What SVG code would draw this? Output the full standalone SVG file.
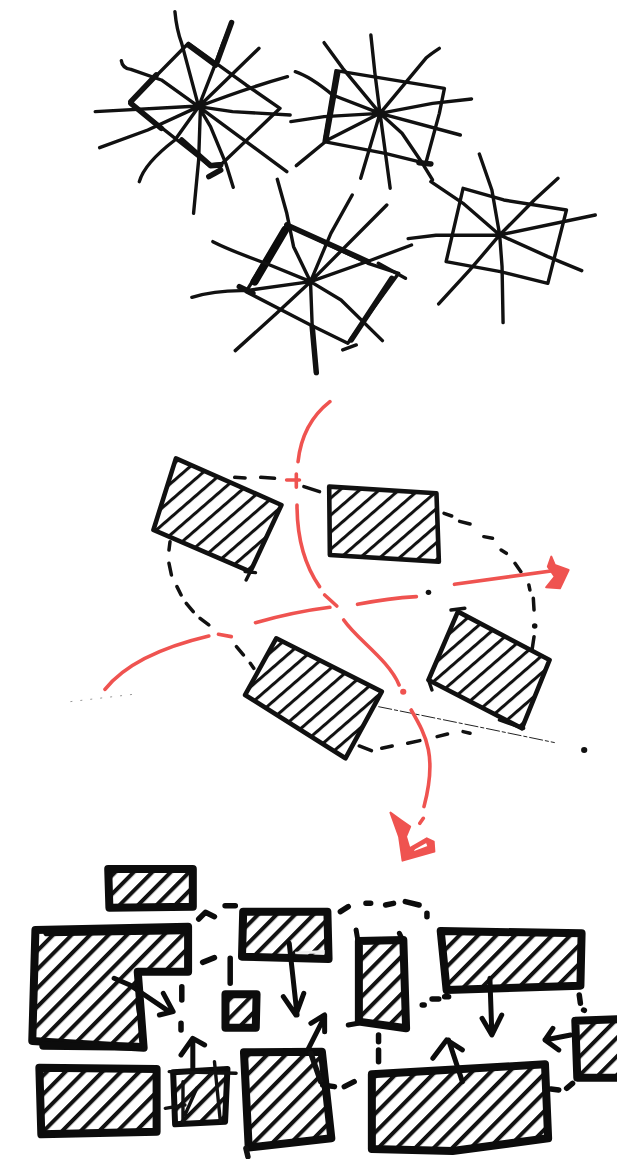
<svg xmlns="http://www.w3.org/2000/svg" width="617" height="1159" viewBox="0 0 617 1159">
<style>
.k,.t,.r,.b,.h,.d,.e{fill:none;stroke-linecap:round;stroke-linejoin:round;vector-effect:non-scaling-stroke}
.k{stroke:#111;stroke-width:3.4}
.t{stroke:#111;stroke-width:5.5}
.d{stroke:#111;stroke-width:3.5}
.e{stroke:#0c0c0c;stroke-width:5.5}
.r{stroke:#ef5350;stroke-width:3.6}
.h{stroke:#111;stroke-width:4.6}
.b{stroke:#0c0c0c;stroke-width:8}
.a{stroke:#0c0c0c;stroke-width:5;fill:none;stroke-linecap:round;stroke-linejoin:round;vector-effect:non-scaling-stroke}
.rf{fill:#ef5350;stroke:#ef5350;stroke-width:2;stroke-linejoin:round;vector-effect:non-scaling-stroke}
.dot{fill:#111}
</style>
<defs>
<pattern id="p2" patternUnits="userSpaceOnUse" width="60" height="38" patternTransform="rotate(-42)"><rect width="60" height="38" fill="#fff"/><rect y="0" width="60" height="9" fill="#111"/></pattern>
<pattern id="p3" patternUnits="userSpaceOnUse" width="60" height="36" patternTransform="rotate(-50)"><rect width="60" height="36" fill="#fff"/><rect y="0" width="60" height="11" fill="#111"/></pattern>
</defs>
<rect width="617" height="1159" fill="#fff"/>

<g id="top-sketch" transform="translate(80,0) scale(.339,.3333)">
<g id="star-1">
<path class="k" d="M150 305L300 150 320 130 490 255 590 325 420 490 380 495 150 310"/>
<path class="t" d="M150 305L225 225M150 310L240 385M300 420L385 497 415 495M380 530L415 510M320 135L400 195"/>
<path class="k" d="M280 35Q285 90 300 130L350 320M447 68Q420 130 400 190L350 320M528 145L350 320M612 230Q490 265 350 320M620 345L450 335 350 320M610 515L470 410 350 320M452 562L430 490 385 380 350 320M335 640L350 480 355 330M175 545Q190 490 280 420L350 320M58 443L200 390 350 320M45 335L350 318M122 182Q125 205 150 208L240 240 350 320"/>
<path class="t" d="M447 68L405 185"/>
</g>
<g id="star-2">
<path class="k" d="M755 212L1075 265 1060 340 1020 490 900 460 720 425Z"/>
<path class="t" d="M760 220L725 420M1000 488L1035 492"/>
<path class="k" d="M720 128L775 205 885 340M858 105L870 220 885 340M1060 145Q1030 165 1020 175L885 340M1155 297L1040 310 885 340M1122 405L885 340M1040 540L1010 490 950 400 885 340M915 565L885 340M828 535L885 340M638 497L730 420 885 340M622 365L720 350 885 340M635 215Q680 230 745 285L885 340"/>
</g>
<g id="star-3">
<path class="k" d="M1130 565L1250 600 1435 630 1380 850 1240 815 1080 785Z"/>
<path class="k" d="M1178 462L1215 570 1238 705M1410 535L1340 600 1238 705M1520 645L1238 705M1480 812L1380 770 1238 705M1248 968L1245 800 1238 705M1058 912L1150 810 1238 705M968 716L1050 706 1238 705M1035 545L1130 610 1238 705"/>
</g>
<g id="star-4">
<path class="k" d="M610 675L850 790 940 820 790 1030 680 975 490 875Z"/>
<path class="b" d="M605 690L515 845"/>
<path class="t" d="M610 675L850 785M920 835L800 1020M470 860L510 880"/>
<path class="k" d="M582 538L610 640 630 740 680 845M803 585L740 700 680 845M905 615L680 845M978 735L860 780 680 845M960 835L880 790M892 1022L770 900 680 845M685 980L680 845M458 1052L580 940 680 845M330 892Q400 870 490 872L680 845M392 725Q440 750 560 795L680 845M775 1050L815 1035"/>
<path class="t" d="M697 1118L685 980"/>
</g>
</g>

<g id="middle-sketch" transform="translate(60,390) scale(.346,.3333)">
<g id="block-a"><path class="h" style="fill:url(#p2)" d="M335 205L640 345 550 545 270 420Z"/><path class="k" d="M550 545L538 570M535 545L565 548"/></g>
<g id="block-b"><path class="h" style="fill:url(#p2)" d="M778 290L1088 310 1095 515 780 495Z"/></g>
<g id="block-c"><path class="h" style="fill:url(#p2)" d="M1150 665L1415 810 1335 1015 1065 870Z"/><path class="k" d="M1130 660L1170 655M1065 870L1075 900M1270 990L1340 1015"/></g>
<g id="block-d"><path class="h" style="fill:url(#p2)" d="M625 745L930 905 825 1105 535 915Z"/></g>
<g id="connectors">
<path class="d" d="M505 262L535 264M580 262L620 265M705 290L750 305M1110 370L1132 378M1155 394L1185 402M1225 440L1250 445M1275 480L1290 490M1315 520L1332 545M1355 585L1358 600M1368 625L1370 660M1370 740L1365 775M318 455L315 480M315 520L322 555M338 590L350 615M365 640L385 665M405 685L430 705M510 770L530 795M550 820L560 835M865 1068L900 1082M930 1075L960 1068M1005 1060L1040 1052M1090 1040L1120 1032M1165 1025L1185 1030"/>
<circle class="dot" cx="1372" cy="708" r="8"/><circle class="dot" cx="1065" cy="607" r="8"/><circle class="dot" cx="1515" cy="1080" r="9"/>
<path fill="none" stroke="#222" stroke-width="1" vector-effect="non-scaling-stroke" stroke-dasharray="14 2 4 2" d="M920 950L1040 975 1230 1015 1430 1058"/>
<path fill="none" stroke="#999" stroke-width="1" vector-effect="non-scaling-stroke" stroke-dasharray="2 8" d="M30 935L220 912"/>
</g>
<g id="red-routes">
<path class="r" d="M780 35Q700 100 688 215M655 270L692 270M683 252L683 292M685 345C685 450 710 530 750 590M765 615L800 648M860 643Q950 625 1030 620M565 698Q680 665 780 652M130 898C190 820 300 770 430 738M458 733L495 740M820 690C860 750 950 810 980 885M1015 960C1060 1040 1090 1100 1052 1250M1050 1285L1040 1300M1140 583L1440 540"/>
<circle cx="992" cy="905" r="9" fill="#ef5350"/>
<path class="rf" d="M1420 500L1430 525 1470 540 1445 595 1405 592 1430 560 1410 530Z"/>
<path class="rf" fill-rule="evenodd" d="M955 1268L985 1290 1012 1310 1000 1340 1010 1375 1060 1345 1080 1355 1082 1385 990 1412 980 1340ZM1015 1390L1065 1370 1060 1355 1025 1375Z"/>
</g>
</g>

<g id="bottom-sketch" transform="translate(0,855) scale(.3935,.3333)">
<g id="room-1"><path class="b" style="fill:url(#p3)" d="M275 42L490 42 490 155 278 158Z"/></g>
<g id="room-2"><path class="b" style="fill:url(#p3)" d="M90 225L478 215 478 350 350 350 365 578 82 558Z"/><path class="b" d="M120 232L470 226M110 572L350 575"/><path class="a" d="M350 440L365 560M290 370L330 390 430 470M415 415L440 470 405 480"/></g>
<g id="room-3"><path class="b" style="fill:url(#p3)" d="M618 170L832 170 835 312 615 305Z"/><path fill="#eee" d="M750 290L825 285 825 296 750 296Z"/><path class="a" d="M735 265L755 480M720 425L752 480 772 415"/></g>
<g id="room-4"><path class="b" style="fill:url(#p3)" d="M573 418L652 418 650 518 573 518Z"/></g>
<g id="room-5"><path class="b" style="fill:url(#p3)" d="M912 258L1025 255 1032 520 912 500Z"/><path class="a" d="M905 225L910 260M1015 235L1025 260M885 510L910 505"/></g>
<g id="room-6"><path class="b" style="fill:url(#p3)" d="M1120 228L1478 235 1475 392 1135 405Z"/><path class="a" d="M1245 370L1250 540M1225 490L1250 540 1275 480"/></g>
<g id="room-7"><path class="b" style="fill:url(#p3)" d="M1462 497L1580 492 1580 668 1467 668Z"/><path class="a" d="M1450 540L1385 555M1405 520L1385 555 1420 585"/></g>
<g id="room-8"><path class="b" style="fill:url(#p3)" d="M100 638L398 642 398 830 105 838Z"/></g>
<g id="room-9"><path class="b" style="stroke-width:6;fill:url(#p3)" d="M440 652L578 642 572 800 445 808Z"/><path class="a" d="M490 640L490 560M460 600L490 550 520 570"/><path class="k" d="M465 680L465 800M430 650L600 655M420 760L470 750M545 620L560 800M500 700L470 780"/></g>
<g id="room-10"><path class="b" style="fill:url(#p3)" d="M620 592L818 590 842 850 632 878Z"/><path class="a" d="M780 590L825 485M790 505L825 480 825 530"/><path class="t" d="M625 880L630 905M790 595L815 680"/></g>
<g id="room-11"><path class="b" style="fill:url(#p3)" d="M945 658L1385 628 1393 850 1150 888 945 882Z"/><path class="a" d="M1175 680L1140 555M1100 610L1135 555 1175 585"/></g>
<g id="dashes">
<path class="e" d="M505 192L522 172 545 185M572 152L598 152M515 322L545 308M585 310L585 385M462 395L462 435M460 505L460 525M865 170L885 155M930 145L942 145M980 150L1000 145M1030 140L1065 150M1085 175L1085 185M1073 450L1078 450M1098 432L1115 432M1130 425L1140 425M962 540L962 560M962 585L962 620M820 690L850 695M875 695L900 680M1472 420L1475 445M1483 465L1485 466M1400 702L1420 705M1440 700L1455 685"/>
</g>
</g>
</svg>
